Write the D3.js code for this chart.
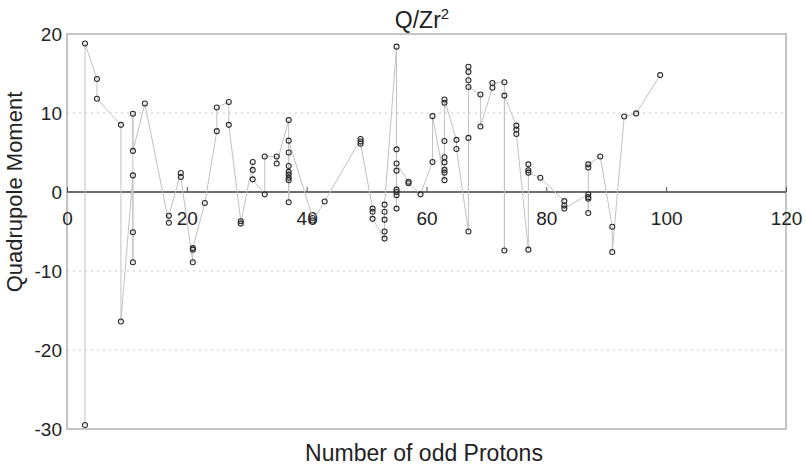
<!DOCTYPE html>
<html>
<head>
<meta charset="utf-8">
<script src="https://cdn.jsdelivr.net/npm/d3@7"></script>
<style>
  body { margin: 0; background: #fff; }
  text { font-family: "Liberation Sans", Arial, sans-serif; fill: #222; }
</style>
</head>
<body>
<div id="chart"></div>
<script>
// odd proton number and quadrupole moment Q/Zr^2, listed in the order the line joins them
const protons = [
    3, 3, 5, 5, 9, 9,
    11, 11, 11, 11, 11, 13, 17, 17, 19, 19,
    21, 21, 21, 23, 25, 25, 27, 27, 29, 29,
    31, 31, 31, 33, 33, 35, 35,
    37, 37, 37, 37, 37, 37, 37, 37, 37,
    41, 41, 43, 49, 49, 49, 51, 51, 51,
    53, 53, 53, 53, 53,
    55, 55, 55, 55, 55, 55, 55, 55,
    57, 57, 59, 61, 61,
    63, 63, 63, 63, 63, 63, 63, 63, 65, 65,
    67, 67, 67, 67, 67, 67, 69, 69, 71, 71,
    73, 73, 73, 75, 75, 75, 77, 77, 77, 77, 79,
    83, 83, 83, 87, 87, 87, 87, 87, 87, 89,
    91, 91, 93, 95, 99
];
const moments = [
    -29.5, 18.8, 14.3, 11.8, 8.5, -16.4,
    2.1, -8.9, -5.1, 9.9, 5.2, 11.2, -3.9, -3.0, 2.4, 1.9,
    -8.9, -7.3, -7.1, -1.4, 7.7, 10.7, 11.4, 8.5, -3.7, -4.0,
    3.8, 2.8, 1.6, -0.3, 4.5, 4.5, 3.6,
    9.1, -1.3, 1.5, 1.8, 2.2, 2.55, 3.3, 5.0, 6.5,
    -3.3, -3.6, -1.2, 6.7, 6.4, 6.1, -2.1, -2.5, -3.4,
    -5.9, -5.0, -3.5, -2.5, -1.6,
    18.4, -2.1, -0.4, 0.0, 0.3, 2.7, 5.4, 3.6,
    1.3, 1.1, -0.3, 3.8, 9.6,
    1.5, 2.45, 2.8, 3.75, 4.4, 6.45, 11.3, 11.7, 6.6, 5.45,
    -5.0, 6.85, 15.85, 15.2, 14.15, 13.3, 12.35, 8.3, 13.2, 13.8,
    13.9, -7.4, 12.2, 8.4, 7.9, 7.35, -7.3, 3.5, 2.75, 2.45, 1.8,
    -1.15, -1.7, -2.1, -0.3, -0.65, -0.85, -2.65, 3.1, 3.5, 4.5,
    -4.4, -7.6, 9.55, 9.95, 14.8
];
const xTicks = [0, 20, 40, 60, 80, 100, 120];
const yTicks = [-30, -20, -10, 0, 10, 20];
const gridValues = [10, -10, -20];

const width = 806, height = 469;
const plotLeft = 67, plotRight = 786, plotTop = 34, plotBottom = 429;

const svg = d3.select('#chart')
    .append('svg')
    .attr('width', width)
    .attr('height', height);

const x = d3.scaleLinear().domain([0, 120]).range([plotLeft, plotRight]);
const y = d3.scaleLinear().domain([-30, 20]).range([plotBottom, plotTop]);

// dotted grid
svg.append('g')
    .selectAll('line')
    .data(gridValues)
    .enter()
    .append('line')
    .attr('x1', plotLeft)
    .attr('x2', plotRight)
    .attr('y1', d => y(d))
    .attr('y2', d => y(d))
    .attr('stroke', '#c8c8c8')
    .attr('stroke-width', 1.2)
    .attr('stroke-dasharray', '2,4');

// frame
svg.append('rect')
    .attr('x', plotLeft)
    .attr('y', plotTop)
    .attr('width', plotRight - plotLeft)
    .attr('height', plotBottom - plotTop)
    .attr('fill', 'none')
    .attr('stroke', '#c4c4c4')
    .attr('stroke-width', 2);

// zero line
svg.append('line')
    .attr('x1', plotLeft)
    .attr('x2', plotRight)
    .attr('y1', y(0))
    .attr('y2', y(0))
    .attr('stroke', '#6e6e6e')
    .attr('stroke-width', 2);

const plain = d => String(d);

const xAxis = svg.append('g')
    .attr('transform', 'translate(0,' + y(0) + ')')
    .call(d3.axisBottom(x).tickValues(xTicks).tickFormat(plain)
        .tickSizeInner(-5).tickSizeOuter(0).tickPadding(20));
xAxis.select('.domain').remove();
xAxis.selectAll('line').attr('stroke', '#555');
xAxis.selectAll('text').style('font-size', '19px').attr('fill', '#333');

const yAxis = svg.append('g')
    .attr('transform', 'translate(' + (plotLeft - 2) + ',0)')
    .call(d3.axisLeft(y).tickValues(yTicks).tickFormat(plain).tickSize(0).tickPadding(3));
yAxis.select('.domain').remove();
yAxis.selectAll('text').style('font-size', '19px').attr('fill', '#222');

// data line
const points = protons.map((p, i) => ({ p: p, q: moments[i] }));
svg.append('path')
    .datum(points)
    .attr('fill', 'none')
    .attr('stroke', '#c2c2c2')
    .attr('stroke-width', 1)
    .attr('d', d3.line().x(d => x(d.p)).y(d => y(d.q)));

svg.append('g')
    .selectAll('circle')
    .data(points)
    .enter()
    .append('circle')
    .attr('cx', d => x(d.p))
    .attr('cy', d => y(d.q))
    .attr('r', 2.5)
    .attr('fill', 'none')
    .attr('stroke', '#2a2a2a')
    .attr('stroke-width', 1.1);

// titles
const title = svg.append('text')
    .attr('x', 422)
    .attr('y', 28)
    .attr('text-anchor', 'middle')
    .style('font-size', '23px');
title.append('tspan').text('Q/Zr');
title.append('tspan').attr('dy', -9).style('font-size', '15px').text('2');

svg.append('text')
    .attr('x', 424)
    .attr('y', 461)
    .attr('text-anchor', 'middle')
    .style('font-size', '23px')
    .text('Number of odd Protons');

svg.append('text')
    .attr('transform', 'translate(22,' + (192) + ') rotate(-90)')
    .attr('text-anchor', 'middle')
    .style('font-size', '22px')
    .text('Quadrupole Moment');
</script>
</body>
</html>
